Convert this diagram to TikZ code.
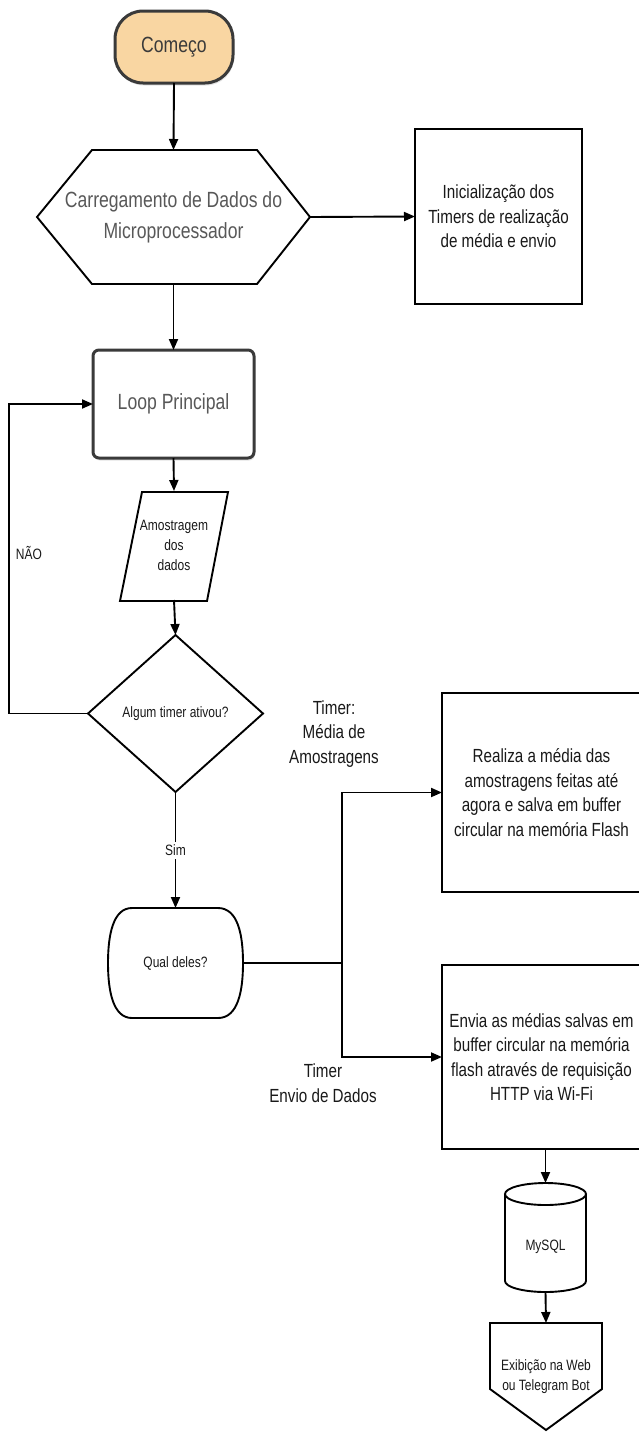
\documentclass[tikz,border=0pt]{standalone}
\usepackage{fontspec}
\setmainfont{Liberation Sans}[FakeStretch=0.8]
\usetikzlibrary{arrows.meta,shadows}
\definecolor{startfill}{RGB}{249,214,162}
\definecolor{darkline}{RGB}{58,58,58}
\definecolor{graytext}{RGB}{88,88,88}
\definecolor{txt}{RGB}{25,25,25}
\begin{document}
\begin{tikzpicture}[x=1pt,y=-1pt,
  box/.style={inner sep=0pt, outer sep=0pt, align=center, text=txt, font=\fontsize{19}{24.5}\selectfont},
  frame/.style={box, draw=black, line width=1.9pt},
  small/.style={box, font=\fontsize{15}{20}\selectfont},
  big/.style={box, font=\fontsize{22}{31}\selectfont},
  shp/.style={draw=black, line width=1.9pt},
  ln/.style={draw=black, line width=1.9pt},
  arr/.style={ln, -{Triangle[length=11pt,width=9pt]}},
  shadowed/.style={drop shadow={opacity=0.22, shadow xshift=1pt, shadow yshift=-2.5pt}}
]
\useasboundingbox (0,0) rectangle (638,1432);

% start
\node[big, draw=darkline, line width=3pt, fill=startfill, rounded corners=28pt,
      minimum width=118, minimum height=72, text=darkline, shadowed] (start) at (174,47) {Começo};

% hexagon
\node[big, text=graytext, minimum width=273, minimum height=134] (hex) at (173.5,217)
  {Carregamento de Dados do\\Microprocessador};
\draw[shp] (hex.west) -- (92,150) -- (257,150) -- (hex.east) -- (257,284) -- (92,284) -- cycle;

% init box
\node[frame, minimum width=167, minimum height=175] (init) at (498.5,216.5)
  {Inicialização dos\\Timers de realização\\de média e envio};

% loop principal
\node[big, draw=darkline, line width=3pt, fill=white, rounded corners=6pt,
      minimum width=161, minimum height=108, text=graytext, shadowed] (loop) at (173.5,404)
  {Loop Principal};

% parallelogram
\node[small, minimum width=108, minimum height=109] (para) at (174,545.5) {Amostragem\\dos\\dados};
\draw[shp] (142,492) -- (228,492) -- (207,601) -- (120,601) -- cycle;

% diamond
\node[small, minimum width=175, minimum height=157] (dia) at (175.5,713.5) {Algum timer ativou?};
\draw[shp] (dia.north) -- (dia.east) -- (dia.south) -- (dia.west) -- cycle;

% qual deles
\node[small, minimum width=135, minimum height=110] (qual) at (175.5,963) {Qual deles?};
\draw[shp] (132,908) -- (218,908) .. controls (238,908) and (243,935) .. (243,963)
  .. controls (243,991) and (238,1018) .. (218,1018) -- (132,1018)
  .. controls (113,1018) and (108,991) .. (108,963)
  .. controls (108,935) and (113,908) .. (132,908) -- cycle;

% realiza / envia
\node[frame, minimum width=199, minimum height=199] (realiza) at (541.5,792.5)
  {Realiza a média das\\amostragens feitas até\\agora e salva em buffer\\circular na memória Flash};
\node[frame, minimum width=199, minimum height=184] (envia) at (541.5,1057)
  {Envia as médias salvas em\\buffer circular na memória\\flash através de requisição\\HTTP via Wi-Fi};

% labels
\node[small] (nao) at (29,553) {NÃO};
\node[box] (tmedia) at (334,734) {Timer:\\ Média de\\Amostragens};
\node[box] (tenvio) at (323,1083) {Timer\\Envio de Dados};

% database
\node[small, minimum width=81, minimum height=109] (db) at (545.5,1237.5) {};
\draw[shp, fill=white] (505,1194) -- (505,1281) arc[start angle=180, end angle=360, x radius=40.5pt, y radius=11pt] -- (586,1194);
\draw[shp] (545.5,1194) ellipse [x radius=40.5pt, y radius=11pt];
\node[small] (dbtxt) at (545.5,1247) {MySQL};

% off-page display
\node[small, minimum width=112, minimum height=107] (out) at (546,1376.5) {Exibição na Web\\ou Telegram Bot};
\draw[shp] (490,1323) -- (602,1323) -- (602,1389) -- (546,1430) -- (490,1389) -- cycle;

% connectors
\coordinate (nl) at (9,713.5);
\coordinate (tr) at (342,963);
\draw[arr] (start.south) -- (hex.north);
\draw[arr] (hex.east) -- (init.west);
\draw[arr] (hex.south) -- (loop.north);
\draw[arr] (loop.south) -- (para.north);
\draw[arr] (para.south) -- (dia.north);
\draw[arr] (dia.west) -- (nl) |- (loop.west);
\draw[arr] (dia.south) -- node[small, fill=white, inner sep=3pt] (sim) {Sim} (qual.north);
\draw[ln] (qual.east) -- (tr);
\draw[arr] (tr) |- (realiza.west);
\draw[arr] (tr) |- (envia.west);
\draw[arr] (envia.south -| db.north) -- (db.north);
\draw[arr] (db.south) -- (out.north);
\end{tikzpicture}
\end{document}
